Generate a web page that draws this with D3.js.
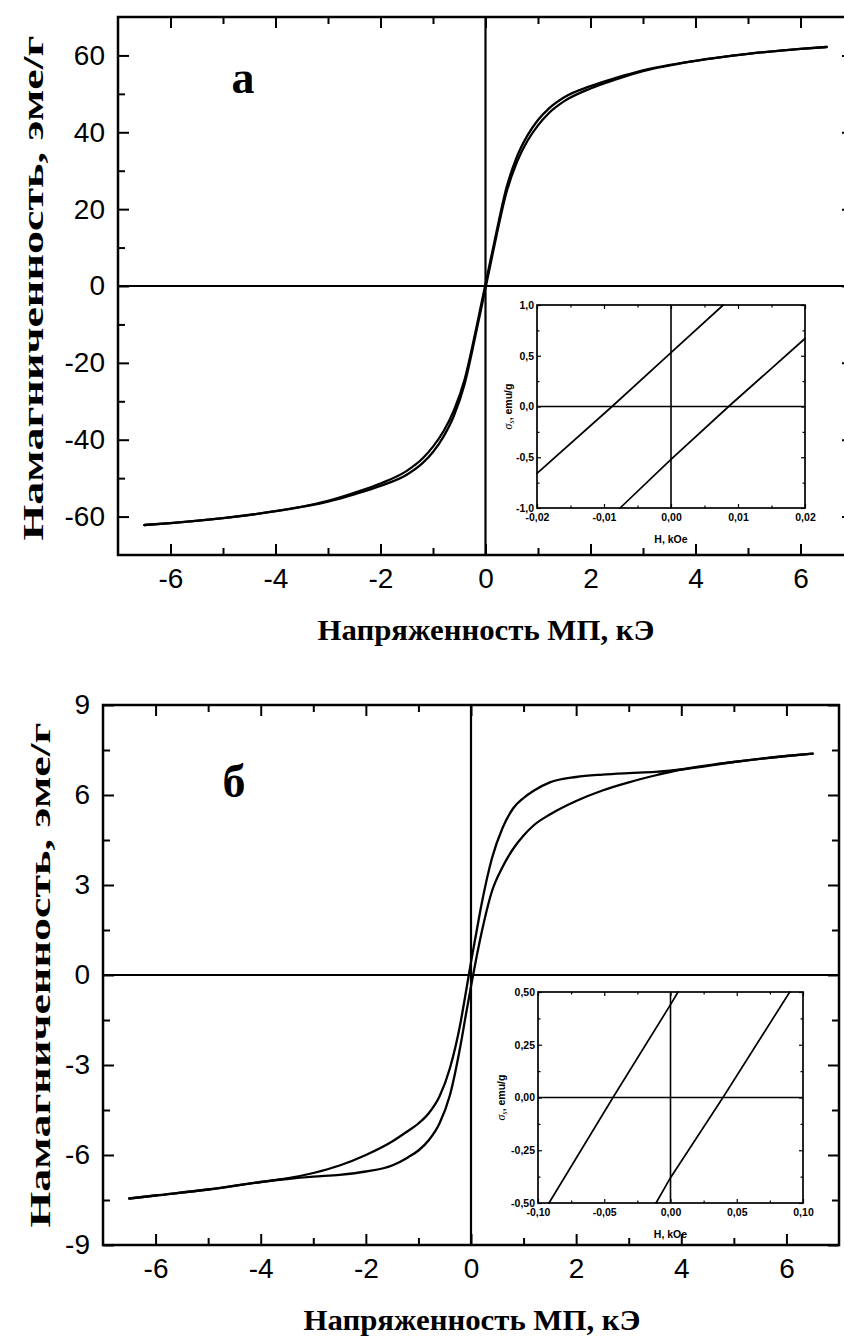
<!DOCTYPE html>
<html>
<head>
<meta charset="utf-8">
<script src="https://cdnjs.cloudflare.com/ajax/libs/d3/7.8.5/d3.min.js"></script>
<style>
body { margin: 0; background: #fff; }
</style>
</head>
<body>
<div id="graph"></div>
<script>
// panel a: field, kOe and both branches, emu/g
var fieldA = [-6.5,-6,-5,-4,-3,-2.5,-2,-1.5,-1.2,-1,-0.8,-0.6,-0.4,-0.2,-0.1,0,0.1,0.2,0.4,0.6,0.8,1,1.2,1.5,2,2.5,3,4,5,6,6.5];
var downA = [-62.2,-61.7,-60.4,-58.6,-55.9,-53.8,-51.4,-48.1,-44.9,-41.8,-37.8,-32.3,-24.4,-12.5,-6.0,0.5,7.0,13.5,25.6,33.7,39.2,43.2,46.1,49.1,52.0,54.2,56.1,58.6,60.4,61.7,62.2];
var upA = [-62.2,-61.7,-60.4,-58.6,-56.1,-54.2,-52.0,-49.1,-46.1,-43.2,-39.2,-33.7,-25.6,-13.5,-7.0,-0.5,6.0,12.5,24.4,32.3,37.8,41.8,44.9,48.1,51.4,53.8,55.9,58.6,60.4,61.7,62.2];

// panel a inset
var insetFieldDownA = [-0.02,-0.0088,0,0.0078];
var insetMagDownA = [-0.66,0,0.53,1.0];
var insetFieldUpA = [-0.0076,0,0.0086,0.02];
var insetMagUpA = [-1.0,-0.52,0,0.67];

// panel b
var fieldB = [-6.5,-6,-5,-4,-3.5,-3,-2.5,-2,-1.5,-1.2,-1,-0.8,-0.6,-0.4,-0.2,-0.1,0,0.1,0.2,0.4,0.6,0.8,1,1.2,1.5,2,2.5,3,3.5,4,5,6,6.5];
var downB = [-7.45,-7.35,-7.15,-6.9,-6.78,-6.6,-6.35,-6.0,-5.55,-5.2,-4.95,-4.6,-4.05,-3.1,-1.6,-0.6,0.43,1.4,2.35,3.9,4.9,5.55,5.9,6.15,6.42,6.6,6.68,6.73,6.77,6.85,7.1,7.3,7.38];
var upB = [-7.45,-7.35,-7.15,-6.9,-6.8,-6.72,-6.66,-6.55,-6.35,-6.08,-5.85,-5.5,-4.95,-4.0,-2.35,-1.35,-0.38,0.55,1.4,2.8,3.6,4.2,4.65,5.0,5.35,5.8,6.15,6.42,6.65,6.85,7.1,7.3,7.38];

// panel b inset
var insetFieldDownB = [-0.0917,-0.0434,0,0.0057];
var insetMagDownB = [-0.5,0,0.44,0.5];
var insetFieldUpB = [-0.0109,0,0.0396,0.09];
var insetMagUpB = [-0.5,-0.38,0,0.5];

// ticks
var xTicks = [-6,-4,-2,0,2,4,6];
var xMinor = [-5,-3,-1,1,3,5];
var yTicksA = [-60,-40,-20,0,20,40,60];
var yMinorA = [-50,-30,-10,10,30,50];
var yTicksB = [-9,-6,-3,0,3,6,9];
var yMinorB = [-7.5,-4.5,-1.5,1.5,4.5,7.5];
var insetXTicksA = [-0.02,-0.01,0,0.01,0.02];
var insetXMinorA = [-0.015,-0.005,0.005,0.015];
var insetYTicksA = [-1,-0.5,0,0.5,1];
var insetYMinorA = [-0.75,-0.25,0.25,0.75];
var insetXTicksB = [-0.1,-0.05,0,0.05,0.1];
var insetXMinorB = [-0.075,-0.025,0.025,0.075];
var insetYTicksB = [-0.5,-0.25,0,0.25,0.5];
var insetYMinorB = [-0.375,-0.125,0.125,0.375];

var panelLabels = ["а", "б"];
var xTitle = "Напряженность МП, кЭ";
var yTitle = "Намагниченность, эме/г";
var insetXTitle = "H, kOe";

var loc = d3.formatLocale({decimal: ",", thousands: "", grouping: [3], currency: ["", ""], minus: "-"});

var svg = d3.select("#graph").append("svg")
    .attr("width", 844)
    .attr("height", 1341)
    .style("display", "block");
svg.append("rect").attr("width", 844).attr("height", 1341).attr("fill", "#fff");

function zip(a, b) {
    return a.map(function(d, i) { return [d, b[i]]; });
}

function frameAxes(g, x, y, p) {
    var b = y.range()[0], t = y.range()[1], l = x.range()[0], r = x.range()[1];
    function style(sel) {
        sel.select(".domain").remove();
        sel.selectAll("line").attr("stroke", "#000").attr("stroke-width", p.tickW);
        sel.selectAll("text")
            .attr("fill", "#000")
            .attr("font-family", p.font)
            .attr("font-weight", p.weight)
            .attr("font-size", p.fontSize);
        sel.attr("font-size", null).attr("font-family", null);
    }
    g.append("g").attr("transform", "translate(0," + b + ")")
        .call(d3.axisBottom(x).tickValues(p.xt).tickSize(-p.major).tickPadding(p.xpad).tickFormat(p.xf)).call(style);
    g.append("g").attr("transform", "translate(0," + b + ")")
        .call(d3.axisBottom(x).tickValues(p.xm).tickSize(-p.minor).tickFormat("")).call(style);
    g.append("g").attr("transform", "translate(0," + t + ")")
        .call(d3.axisTop(x).tickValues(p.xt).tickSize(-p.major).tickFormat("")).call(style);
    g.append("g").attr("transform", "translate(0," + t + ")")
        .call(d3.axisTop(x).tickValues(p.xm).tickSize(-p.minor).tickFormat("")).call(style);
    g.append("g").attr("transform", "translate(" + l + ",0)")
        .call(d3.axisLeft(y).tickValues(p.yt).tickSize(-p.major).tickPadding(p.ypad).tickFormat(p.yf)).call(style);
    g.append("g").attr("transform", "translate(" + l + ",0)")
        .call(d3.axisLeft(y).tickValues(p.ym).tickSize(-p.minor).tickFormat("")).call(style);
    g.append("g").attr("transform", "translate(" + r + ",0)")
        .call(d3.axisRight(y).tickValues(p.yt).tickSize(-p.major).tickFormat("")).call(style);
    g.append("g").attr("transform", "translate(" + r + ",0)")
        .call(d3.axisRight(y).tickValues(p.ym).tickSize(-p.minor).tickFormat("")).call(style);
}

function plotPanel(p) {
    var x = d3.scaleLinear().domain(p.xDomain).range([p.left, p.right]);
    var y = d3.scaleLinear().domain(p.yDomain).range([p.bottom, p.top]);
    var g = svg.append("g");

    if (p.fill) {
        g.append("rect").attr("x", p.left).attr("y", p.top)
            .attr("width", p.right - p.left).attr("height", p.bottom - p.top)
            .attr("fill", "#fff");
    }

    // zero lines
    g.append("line").attr("x1", x(0)).attr("x2", x(0)).attr("y1", p.top).attr("y2", p.bottom)
        .attr("stroke", "#000").attr("stroke-width", p.zeroW);
    g.append("line").attr("x1", p.left).attr("x2", p.right).attr("y1", y(0)).attr("y2", y(0))
        .attr("stroke", "#000").attr("stroke-width", p.zeroW);

    var line = d3.line()
        .x(function(d) { return x(d[0]); })
        .y(function(d) { return y(d[1]); })
        .curve(p.curve);
    p.series.forEach(function(s) {
        g.append("path")
            .attr("fill", "none")
            .attr("stroke", "#000")
            .attr("stroke-width", p.lineW)
            .attr("stroke-linejoin", "round")
            .attr("stroke-linecap", "round")
            .attr("d", line(s));
    });

    frameAxes(g, x, y, p);

    g.append("rect").attr("x", p.left).attr("y", p.top)
        .attr("width", p.right - p.left).attr("height", p.bottom - p.top)
        .attr("fill", "none").attr("stroke", "#000").attr("stroke-width", p.frameW);
    return g;
}

function mainPanel(cfg) {
    plotPanel({
        xDomain: [-7, 7], yDomain: cfg.yDomain,
        left: cfg.left, right: cfg.right, top: cfg.top, bottom: cfg.bottom,
        series: cfg.series, curve: d3.curveMonotoneX,
        lineW: 2.3, zeroW: 2.2, frameW: 2.5, tickW: 2,
        major: 11, minor: 7, xpad: 13, ypad: 13,
        xt: xTicks, xm: xMinor, yt: cfg.yt, ym: cfg.ym,
        xf: loc.format("d"), yf: loc.format("d"),
        font: "'Liberation Sans', Arial, sans-serif", weight: "normal", fontSize: 28
    });

    svg.append("text")
        .attr("x", cfg.xTitleX).attr("y", cfg.xTitleY)
        .attr("text-anchor", "middle")
        .attr("font-family", "'Liberation Serif', 'Times New Roman', serif")
        .attr("font-weight", "bold")
        .attr("font-size", 30)
        .attr("textLength", 337).attr("lengthAdjust", "spacingAndGlyphs")
        .text(xTitle);

    svg.append("text")
        .attr("transform", "translate(" + cfg.yTitleX + "," + cfg.yTitleY + ") rotate(-90)")
        .attr("text-anchor", "middle")
        .attr("font-family", "'Liberation Serif', 'Times New Roman', serif")
        .attr("font-weight", "bold")
        .attr("font-size", 29)
        .attr("textLength", 505).attr("lengthAdjust", "spacingAndGlyphs")
        .text(yTitle);

    svg.append("text")
        .attr("x", cfg.labelX).attr("y", cfg.labelY)
        .attr("text-anchor", "middle")
        .attr("font-family", "'Liberation Serif', 'Times New Roman', serif")
        .attr("font-weight", "bold")
        .attr("font-size", 46)
        .text(cfg.label);
}

function insetPanel(cfg) {
    plotPanel({
        xDomain: cfg.xDomain, yDomain: cfg.yDomain,
        left: cfg.left, right: cfg.right, top: cfg.top, bottom: cfg.bottom,
        series: cfg.series, curve: d3.curveLinear, fill: true,
        lineW: 1.7, zeroW: 1.6, frameW: 1.7, tickW: 1.2,
        major: 4, minor: 2.5, xpad: 6, ypad: 3,
        xt: cfg.xt, xm: cfg.xm, yt: cfg.yt, ym: cfg.ym,
        xf: loc.format(".2f"), yf: loc.format(cfg.yfmt),
        font: "'Liberation Sans', Arial, sans-serif", weight: "bold", fontSize: 10.5
    });

    svg.append("text")
        .attr("x", (cfg.left + cfg.right) / 2).attr("y", cfg.bottom + 35)
        .attr("text-anchor", "middle")
        .attr("font-family", "'Liberation Sans', Arial, sans-serif")
        .attr("font-weight", "bold")
        .attr("font-size", 10.5)
        .text(insetXTitle);

    var t = svg.append("text")
        .attr("transform", "translate(" + cfg.yTitleX + "," + ((cfg.top + cfg.bottom) / 2) + ") rotate(-90)")
        .attr("text-anchor", "middle")
        .attr("font-family", "'Liberation Sans', Arial, sans-serif")
        .attr("font-weight", "bold")
        .attr("font-size", 10.5);
    t.append("tspan").attr("font-family", "'Liberation Serif', serif").attr("font-style", "italic")
        .attr("font-weight", "normal").attr("font-size", 12).text("σ");
    t.append("tspan").attr("font-family", "'Liberation Serif', serif").attr("font-style", "italic")
        .attr("font-weight", "normal").attr("font-size", 8).attr("dy", 2).text("s");
    t.append("tspan").attr("dy", -2).text(", emu/g");
}

// panel a
mainPanel({
    yDomain: [-70, 70], left: 118, right: 853, top: 17, bottom: 555,
    series: [zip(fieldA, downA), zip(fieldA, upA)],
    yt: yTicksA, ym: yMinorA,
    xTitleX: 486, xTitleY: 640, yTitleX: 43, yTitleY: 288,
    label: panelLabels[0], labelX: 243, labelY: 93
});
insetPanel({
    xDomain: [-0.02, 0.02], yDomain: [-1, 1],
    left: 537, right: 805, top: 305, bottom: 508,
    series: [zip(insetFieldDownA, insetMagDownA), zip(insetFieldUpA, insetMagUpA)],
    xt: insetXTicksA, xm: insetXMinorA, yt: insetYTicksA, ym: insetYMinorA, yfmt: ".1f",
    yTitleX: 512
});

// panel b
mainPanel({
    yDomain: [-9, 9], left: 103, right: 839, top: 705, bottom: 1245,
    series: [zip(fieldB, downB), zip(fieldB, upB)],
    yt: yTicksB, ym: yMinorB,
    xTitleX: 472, xTitleY: 1330, yTitleX: 50, yTitleY: 975,
    label: panelLabels[1], labelX: 234, labelY: 797
});
insetPanel({
    xDomain: [-0.1, 0.1], yDomain: [-0.5, 0.5],
    left: 538, right: 803, top: 992, bottom: 1203,
    series: [zip(insetFieldDownB, insetMagDownB), zip(insetFieldUpB, insetMagUpB)],
    xt: insetXTicksB, xm: insetXMinorB, yt: insetYTicksB, ym: insetYMinorB, yfmt: ".2f",
    yTitleX: 505
});
</script>
</body>
</html>
